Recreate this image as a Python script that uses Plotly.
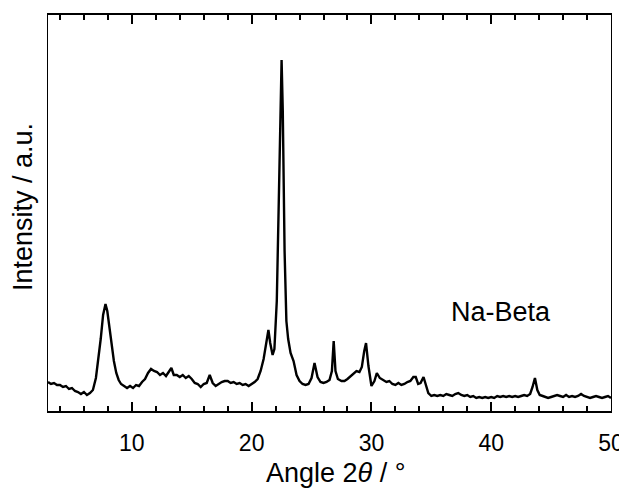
import plotly.graph_objects as go

angle = [3.0, 3.25, 3.5, 3.75, 4.0, 4.25, 4.5, 4.75, 5.0, 5.25, 5.5, 5.75, 6.0, 6.25, 6.5, 6.75,
         7.0, 7.2, 7.4, 7.6, 7.8, 7.95, 8.1, 8.3, 8.5, 8.7, 8.9, 9.1, 9.35, 9.6, 9.85,
         10.1, 10.35, 10.6, 10.85, 11.1, 11.35, 11.6, 11.85, 12.1, 12.35, 12.6, 12.85, 13.1, 13.3,
         13.5, 13.75, 14.0, 14.25, 14.5, 14.75, 15.0, 15.25, 15.5, 15.75, 16.0, 16.25, 16.5, 16.75,
         17.0, 17.25, 17.5, 17.75, 18.0, 18.25, 18.5, 18.75, 19.0, 19.25, 19.5, 19.75, 20.0, 20.25,
         20.5, 20.75, 21.0, 21.2, 21.4, 21.55, 21.75, 21.9, 22.1, 22.25, 22.4, 22.5, 22.6, 22.75,
         22.9, 23.05, 23.25, 23.5, 23.75, 24.0, 24.25, 24.5, 24.75, 25.0, 25.25, 25.5, 25.75, 26.0,
         26.25, 26.5, 26.7, 26.85, 27.0, 27.2, 27.5, 27.75, 28.0, 28.25, 28.5, 28.75, 29.0, 29.2,
         29.4, 29.55, 29.75, 30.0, 30.25, 30.45, 30.7, 31.0, 31.25, 31.5, 31.75, 32.0, 32.25, 32.5,
         32.75, 33.0, 33.25, 33.5, 33.7, 33.9, 34.1, 34.35, 34.55, 34.75, 35.0, 35.25, 35.5, 35.75,
         36.0, 36.25, 36.5, 36.75, 37.0, 37.25, 37.5, 37.75, 38.0, 38.25, 38.5, 38.75, 39.0, 39.25,
         39.5, 39.75, 40.0, 40.25, 40.5, 40.75, 41.0, 41.25, 41.5, 41.75, 42.0, 42.25, 42.5, 42.75,
         43.0, 43.25, 43.45, 43.65, 43.85, 44.05, 44.3, 44.5, 44.75, 45.0, 45.25, 45.5, 45.75, 46.0,
         46.25, 46.5, 46.75, 47.0, 47.25, 47.5, 47.75, 48.0, 48.25, 48.5, 48.75, 49.0, 49.25, 49.5,
         49.75, 50.0]
intensity = [29, 27, 28, 26, 26, 24, 25, 22, 23, 20, 19, 17, 19, 16, 18, 21,
             33, 50, 72, 96, 107, 100, 85, 66, 50, 38, 31, 27, 25, 23, 25,
             23, 26, 25, 29, 32, 38, 42, 40, 39, 36, 38, 35, 39, 43,
             36, 36, 34, 36, 33, 35, 32, 28, 27, 24, 27, 28, 36, 28,
             25, 27, 29, 30, 30, 28, 29, 27, 28, 26, 27, 25, 27, 29,
             32, 40, 52, 66, 81, 68, 56, 62, 110, 200, 320, 351, 300, 160,
             90, 72, 58, 50, 36, 30, 27, 26, 27, 33, 48, 34, 29, 28,
             29, 31, 40, 70, 40, 32, 30, 30, 32, 35, 38, 40, 39, 44,
             60, 68, 45, 25, 30, 38, 33, 31, 29, 30, 27, 26, 28, 26,
             27, 29, 30, 34, 34, 27, 28, 34, 25, 18, 15, 16, 15, 16,
             15, 17, 16, 15, 17, 18, 16, 15, 16, 14, 15, 13, 14, 13,
             14, 13, 14, 13, 15, 14, 15, 14, 15, 14, 15, 14, 15, 16,
             15, 17, 24, 33, 21, 16, 15, 14, 13, 14, 15, 16, 15, 14,
             16, 14, 15, 14, 15, 17, 15, 14, 13, 14, 15, 14, 13, 14,
             15, 13]

x_tick_vals = [10, 20, 30, 40, 50]
sample_label = "Na-Beta"
x_title = "Angle 2<i>θ</i> / °"
y_title = "Intensity / a.u."

FONT = "Liberation Sans, Arial, sans-serif"

fig = go.Figure()
fig.add_trace(go.Scatter(x=angle, y=intensity, mode="lines",
                         line=dict(color="black", width=2.4)))
# invisible copy on a top axis so the top frame carries the same ticks
fig.add_trace(go.Scatter(x=angle, y=intensity, mode="lines", xaxis="x2",
                         line=dict(color="rgba(0,0,0,0)", width=0), showlegend=False))

fig.add_annotation(x=40.8, y=99, text=sample_label, showarrow=False,
                   font=dict(family=FONT, size=27, color="black"))
fig.add_annotation(xref="paper", yref="paper", x=0.512, y=0, yshift=-62,
                   text=x_title, showarrow=False, yanchor="middle",
                   font=dict(family=FONT, size=27, color="black"))
fig.add_annotation(xref="paper", yref="paper", x=0, y=0.515, xshift=-25,
                   text=y_title, showarrow=False, textangle=-90,
                   xanchor="center", yanchor="middle",
                   font=dict(family=FONT, size=27, color="black"))

tick_common = dict(
    range=[3, 50], tickvals=x_tick_vals,
    ticks="inside", ticklen=9, tickwidth=2, tickcolor="black",
    minor=dict(dtick=2, tick0=0, ticks="inside", ticklen=5, tickwidth=1.8, tickcolor="black"),
    showline=True, linecolor="black", linewidth=1.8,
    showgrid=False, zeroline=False, automargin=False,
)

fig.update_layout(
    width=619, height=481,
    margin=dict(l=40, r=16, t=7, b=78),
    plot_bgcolor="white", paper_bgcolor="white", showlegend=False,
    xaxis=dict(**tick_common, ticklabelstandoff=10,
               tickfont=dict(family=FONT, size=23, color="black")),
    xaxis2=dict(**tick_common, overlaying="x", side="top", showticklabels=False),
    yaxis=dict(range=[0, 396], showticklabels=False, showline=True, mirror=True,
               linecolor="black"),
)

fig.write_html("out.html")
